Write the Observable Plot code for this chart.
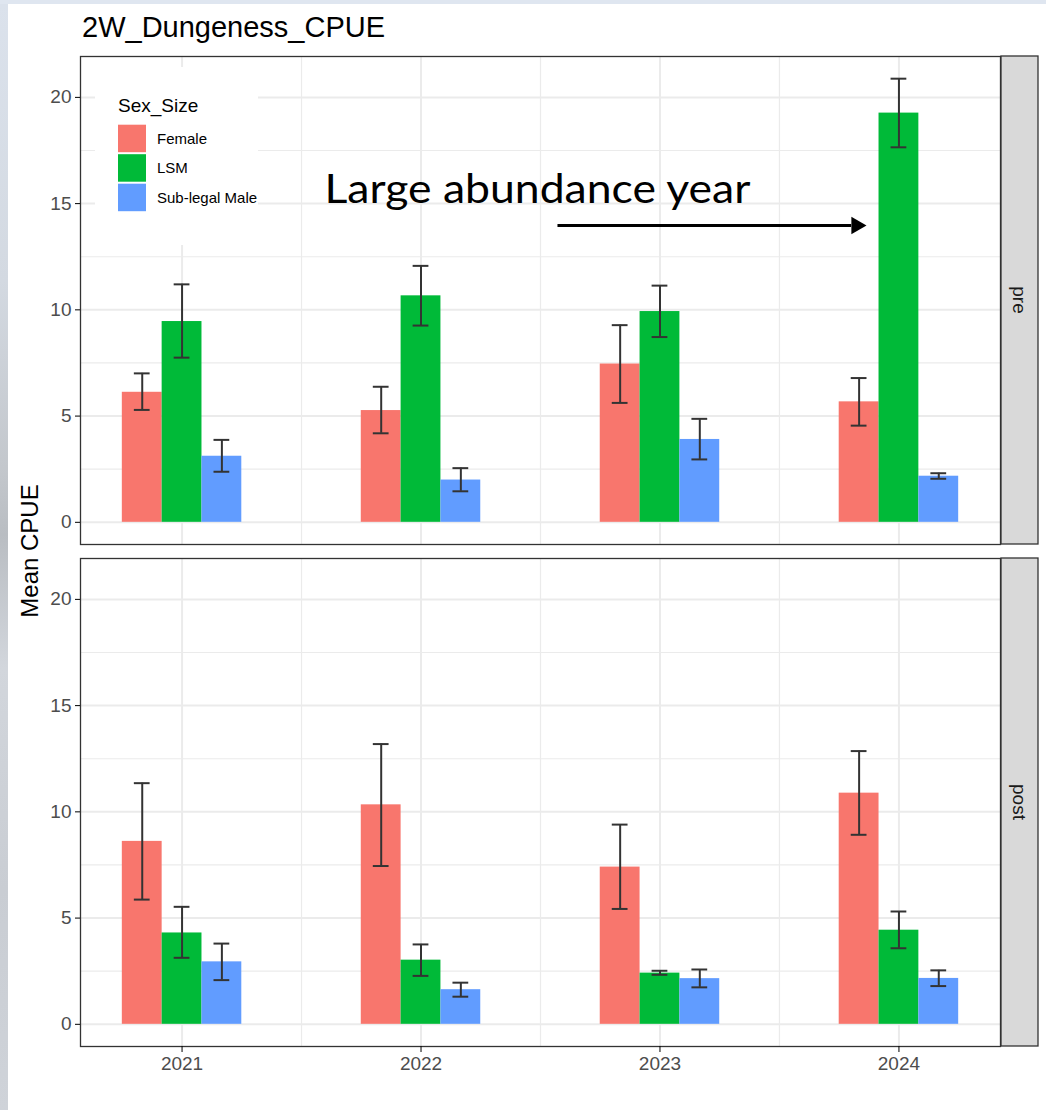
<!DOCTYPE html>
<html>
<head>
<meta charset="utf-8">
<script src="https://cdn.jsdelivr.net/npm/d3@7"></script>
<script src="https://cdn.jsdelivr.net/npm/@observablehq/plot@0.6"></script>
<style>
  html, body { margin: 0; padding: 0; }
  body { width: 1046px; height: 1110px; background: #dfe6f0; position: relative; overflow: hidden;
         font-family: "Liberation Sans", Arial, sans-serif; }
  #side { position: absolute; left: 0; top: 4px; width: 8px; height: 1106px;
          background: linear-gradient(180deg, #dbe2ec 0%, #d3d9e1 25%, #c3c7cc 42%, #b9bdc2 48%, #d2d6dc 60%, #c9cdd3 80%, #cfd3d9 100%); }
  #card { position: absolute; left: 8px; top: 4px; width: 1038px; height: 1106px; background: #fff; }
  #title { box-sizing: border-box; height: 41px; padding: 9px 0 0 74px; font-size: 29px; line-height: 1; color: #000; white-space: nowrap; }
  #chart svg { display: block; }
</style>
</head>
<body>
<div id="side"></div>
<div id="card">
  <div id="title">2W_Dungeness_CPUE</div>
  <div id="chart"></div>
</div>
<script>
// ---------------- data ----------------
const years = [2021, 2022, 2023, 2024];
const periods = ["pre", "post"];
const sexSize = ["Female", "LSM", "Sub-legal Male"];
const colors = ["#F8766D", "#00BA38", "#619CFF"];
const yTicks = [0, 5, 10, 15, 20];
const yMinor = [2.5, 7.5, 12.5, 17.5];
const xMinor = [2021.5, 2022.5, 2023.5];

// rows follow sexSize, columns follow years
const preMean  = [[6.12, 5.26, 7.45, 5.67], [9.45, 10.66, 9.92, 19.26], [3.11, 1.99, 3.90, 2.17]];
const preLow   = [[5.29, 4.19, 5.62, 4.55], [7.75, 9.26, 8.72, 17.65], [2.38, 1.46, 2.96, 2.05]];
const preHigh  = [[7.01, 6.38, 9.28, 6.79], [11.20, 12.07, 11.14, 20.88], [3.88, 2.55, 4.87, 2.31]];
const postMean = [[8.61, 10.33, 7.40, 10.88], [4.30, 3.02, 2.41, 4.43], [2.94, 1.63, 2.15, 2.16]];
const postLow  = [[5.87, 7.45, 5.43, 8.92], [3.13, 2.28, 2.33, 3.58], [2.08, 1.30, 1.74, 1.80]];
const postHigh = [[11.35, 13.19, 9.40, 12.86], [5.53, 3.76, 2.52, 5.31], [3.80, 1.96, 2.58, 2.54]];

// annotation (in data coordinates of the "pre" panel)
const noteText = ["Large abundance year"];
const noteXY = [2021.596, 15.67];
const arrowFrom = [2022.571, 13.97];
const arrowTo = [2023.80, 13.97];
const arrowHead = [2023.822, 13.97];

// ---------------- table ----------------
const rows = [];
periods.forEach((p, pi) => {
  const [M, L, H] = pi === 0 ? [preMean, preLow, preHigh] : [postMean, postLow, postHigh];
  sexSize.forEach((s, si) => years.forEach((yr, yi) => {
    rows.push({period: p, sex: s, si, year: yr, mean: M[si][yi], lo: L[si][yi], hi: H[si][yi]});
  }));
});

const groupWidth = 0.5;
const bw = groupWidth / sexSize.length;
const capW = 0.066;
const cx = d => d.year + (d.si - (sexSize.length - 1) / 2) * bw;

const xLo0 = d3.min(years) - groupWidth / 2, xHi0 = d3.max(years) + groupWidth / 2;
const xPad = (xHi0 - xLo0) * 0.05;
const yHi0 = d3.max(rows, d => d.hi);
const yPad = yHi0 * 0.05;

const W = 1038, H = 1045, ML = 72, MR = 46, MT = 11, MB = 44;
const gridCol = "#ebebeb";

const plot = Plot.plot({
  width: W, height: H,
  marginLeft: ML, marginRight: MR, marginTop: MT, marginBottom: MB,
  style: {fontFamily: "'Liberation Sans', Arial, sans-serif", fontSize: "19px", background: "transparent", overflow: "visible"},
  x: {domain: [xLo0 - xPad, xHi0 + xPad]},
  y: {domain: [-yPad, yHi0 + yPad]},
  fy: {domain: periods, paddingInner: 14 / 502, paddingOuter: 0, axis: null, label: null},
  color: {domain: sexSize, range: colors},
  marks: [
    Plot.gridX(xMinor, {stroke: gridCol, strokeOpacity: 1, strokeWidth: 1.2}),
    Plot.gridY(yMinor, {stroke: gridCol, strokeOpacity: 1, strokeWidth: 1.2}),
    Plot.gridX(years, {stroke: gridCol, strokeOpacity: 1, strokeWidth: 2}),
    Plot.gridY(yTicks, {stroke: gridCol, strokeOpacity: 1, strokeWidth: 2}),
    Plot.rect(rows, {fy: "period", x1: d => cx(d) - bw / 2, x2: d => cx(d) + bw / 2, y1: 0, y2: "mean", fill: "sex"}),
    Plot.ruleX(rows, {fy: "period", x: cx, y1: "lo", y2: "hi", stroke: "#333", strokeWidth: 2}),
    Plot.ruleY(rows, {fy: "period", y: "lo", x1: d => cx(d) - capW / 2, x2: d => cx(d) + capW / 2, stroke: "#333", strokeWidth: 2}),
    Plot.ruleY(rows, {fy: "period", y: "hi", x1: d => cx(d) - capW / 2, x2: d => cx(d) + capW / 2, stroke: "#333", strokeWidth: 2}),
    Plot.frame({stroke: "#333", strokeWidth: 1.3}),
    Plot.axisY(yTicks, {tickSize: 5, tickPadding: 4, fontSize: 19, label: null}),
    Plot.axisX(years, {tickSize: 6, tickPadding: 4, tickFormat: "d", fontSize: 19, label: null}),
    Plot.text(noteText, {fy: () => periods[0], x: () => noteXY[0], y: () => noteXY[1], text: d => d,
      textAnchor: "start", lineAnchor: "middle", fontSize: 41, fontFamily: "Lato, sans-serif", fill: "#000"}),
    Plot.link([0], {fy: () => periods[0], x1: () => arrowFrom[0], y1: () => arrowFrom[1], x2: () => arrowTo[0], y2: () => arrowTo[1],
      stroke: "#000", strokeWidth: 3}),
    Plot.dot([0], {fy: () => periods[0], x: () => arrowHead[0], y: () => arrowHead[1], symbol: "triangle", rotate: 90, r: 6.5,
      fill: "#000", stroke: "none"})
  ]
});

document.getElementById("chart").appendChild(plot);
const svg = d3.select(plot);

svg.selectAll('g[aria-label="y-axis tick label"], g[aria-label="x-axis tick label"]').attr("fill", "#4d4d4d");
svg.selectAll('g[aria-label="y-axis tick"], g[aria-label="x-axis tick"]').attr("stroke", "#333");
svg.selectAll("text").filter(function() { return this.textContent === noteText[0]; })
  .attr("textLength", 426).attr("lengthAdjust", "spacingAndGlyphs");

// strips (facet labels) on the right
const fy = plot.scale("fy");
const xr = plot.scale("x").range;
const xRight = Math.max(...xr);
fy.domain.forEach(p => {
  const y0 = fy.apply(p), bh = fy.bandwidth;
  svg.append("rect").attr("x", xRight + 1).attr("y", y0).attr("width", 37).attr("height", bh)
    .attr("fill", "#d9d9d9").attr("stroke", "#333").attr("stroke-width", 1.3);
  svg.append("text").attr("transform", `translate(${xRight + 1 + 18.5},${y0 + bh / 2}) rotate(90)`)
    .attr("text-anchor", "middle").attr("dy", "0.35em").attr("font-size", 19).attr("fill", "#1a1a1a").text(p);
});

// y-axis title centred over both panels
const fyR = fy.range;
svg.append("text").attr("transform", `translate(30,${(fyR[0] + fyR[1]) / 2}) rotate(-90)`)
  .attr("text-anchor", "middle").attr("font-size", 24).attr("fill", "#000").text("Mean CPUE");

// legend inside the top panel
const color = plot.scale("color");
const lg = svg.append("g").attr("text-anchor", "start");
lg.append("rect").attr("x", 87).attr("y", 22).attr("width", 163).attr("height", 178).attr("fill", "#fff");
lg.append("text").attr("x", 110).attr("y", 67).attr("font-size", 19).attr("fill", "#000").text("Sex_Size");
color.domain.forEach((s, i) => {
  const ky = 79.7 + i * 29.5;
  lg.append("rect").attr("x", 110).attr("y", ky).attr("width", 28).attr("height", 27.5).attr("fill", color.apply(s));
  lg.append("text").attr("x", 149).attr("y", ky + 13.75).attr("dy", "0.35em").attr("font-size", 15).attr("fill", "#000").text(s);
});
</script>
</body>
</html>
